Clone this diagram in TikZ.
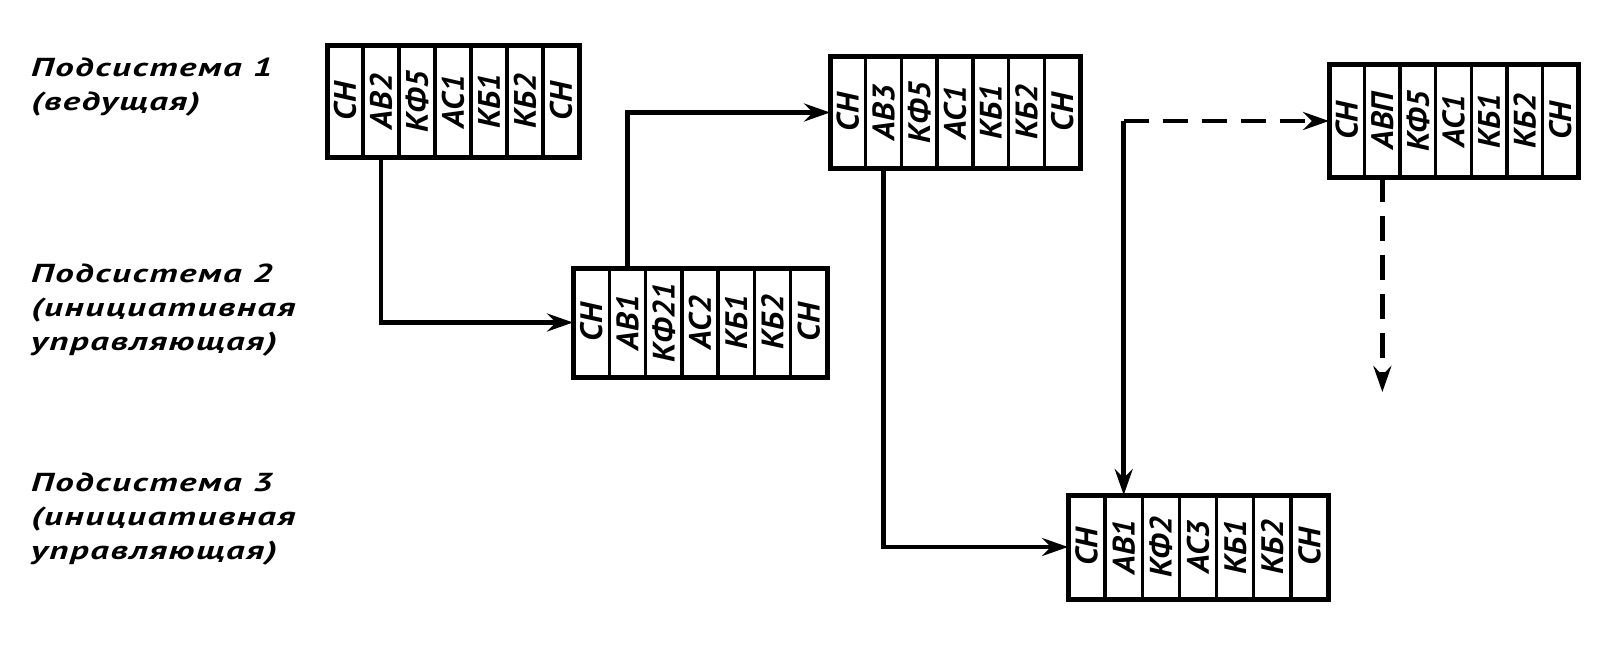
\documentclass[tikz,border=0pt]{standalone}
\usepackage{fontspec}
\newfontfamily\gostlbl{PT Sans}[FakeStretch=1.42,LetterSpace=6]
\newfontfamily\gostcell{PT Sans}[FakeStretch=1.05]
\usetikzlibrary{arrows.meta}
\tikzset{
  blkframe/.style={draw, line width=5pt, inner sep=0pt, outer sep=0pt},
  divider/.style={line width=3.5pt},
  celltext/.style={rotate=90, inner sep=0pt, font=\gostcell\bfseries\itshape\fontsize{31}{31}\selectfont},
  lbl/.style={align=left, inner sep=0pt, font=\gostlbl\bfseries\itshape\fontsize{26}{34}\selectfont},
  conn/.style={line width=4.5pt, -{Stealth[length=26pt,width=18pt,inset=9pt]}},
  dashconn/.style={conn, dash pattern=on 25pt off 14pt}
}
\newcommand\mkblock[6]{%
  \node[blkframe, minimum width=#4pt, minimum height=#5pt, anchor=north west] (#1) at (#2,#3) {};
  \foreach \k in {1,...,6} \draw[divider] ({#2+\k*#4/7},#3) -- ++(0,#5);
  \foreach \t [count=\i] in {#6} \node[celltext] (#1-\i) at ({#2+(\i-0.5)*#4/7},{#3+#5/2}) {\t};
}
\begin{document}
\begin{tikzpicture}[x=1pt,y=-1pt]
\useasboundingbox (0,0) rectangle (1608,650);
% labels
\node[lbl, anchor=north west] (l1) at (31,58) {Подсистема 1\\(ведущая)};
\node[lbl, anchor=north west] (l2) at (31,264) {Подсистема 2\\(инициативная\\управляющая)};
\node[lbl, anchor=north west] (l3) at (31,473) {Подсистема 3\\(инициативная\\управляющая)};
% blocks
\mkblock{f1}{327}{46}{252}{111}{СН,АВ2,КФ5,АС1,КБ1,КБ2,СН}
\mkblock{f2}{573}{268}{254}{109}{СН,АВ1,КФ21,АС2,КБ1,КБ2,СН}
\mkblock{f3}{830}{57}{250}{111}{СН,АВ3,КФ5,АС1,КБ1,КБ2,СН}
\mkblock{f4}{1329}{65}{249}{112}{СН,АВП,КФ5,АС1,КБ1,КБ2,СН}
\mkblock{f5}{1068}{495}{260}{104}{СН,АВ1,КФ2,АС3,КБ1,КБ2,СН}
% connectors
\draw[conn] (f1-2 |- f1.south) |- (f2.west);
\draw[conn] (f2-2 |- f2.north) |- (f3.west);
\draw[conn] (f3-2 |- f3.south) |- (f5.west);
\coordinate (c4) at (f5-2 |- f4.west);
\draw[conn] (c4) -- (f5-2 |- f5.north);
\draw[dashconn] (c4) -- (f4.west);
\path (f4-2 |- f4.south) ++(0,215) coordinate (c5);
\draw[dashconn] (f4-2 |- f4.south) -- (c5);
\end{tikzpicture}
\end{document}
